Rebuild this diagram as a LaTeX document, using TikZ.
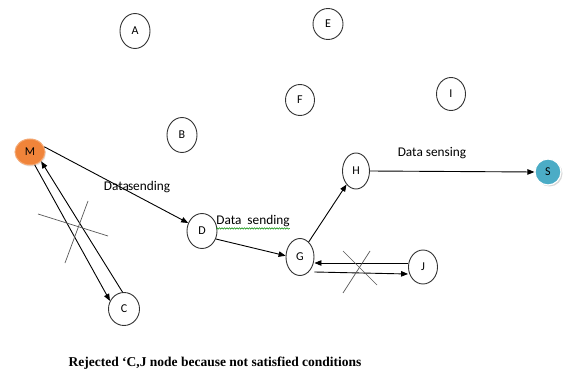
\documentclass[tikz,border=0pt]{standalone}
\usepackage{fontspec}
\setmainfont{Liberation Serif}
\newfontfamily\calfont{Carlito}
\usetikzlibrary{arrows.meta,shapes.geometric,shadows,decorations.pathmorphing}
\definecolor{mOrange}{HTML}{F0843A}
\definecolor{sTeal}{HTML}{4BACC6}
\definecolor{sEdge}{HTML}{357D91}
\begin{document}
\begin{tikzpicture}[x=1pt,y=-1pt,
  nd/.style={ellipse,draw=black!80,line width=0.9pt,minimum width=30pt,minimum height=35pt,inner sep=0pt,font=\calfont\fontsize{12}{13}\selectfont},
  arr/.style={line width=0.9pt,-{Triangle[length=7pt,width=5.5pt]}},
  xln/.style={line width=0.7pt,black!65},
  lbl/.style={font=\calfont\fontsize{13.3}{14}\selectfont,inner sep=0pt}]
\useasboundingbox (0,0) rectangle (568,377);
\fill[white] (0,0) rectangle (568,377);
% nodes
\node[nd] (A) at (135,31) {A};
\node[nd,minimum width=30pt,minimum height=31pt] (E) at (328,24) {E};
\node[nd,minimum width=29pt,minimum height=31pt] (F) at (300,100) {F};
\node[nd,minimum width=29pt,minimum height=33pt] (I) at (451,94) {I};
\node[nd] (B) at (182,135) {B};
\node[nd,minimum width=31pt,minimum height=33pt] (C) at (124,309) {C};
\node[nd] (D) at (202,231) {D};
\node[nd,minimum width=28pt,minimum height=37pt] (G) at (300,257) {G};
\node[nd,minimum width=27pt,minimum height=36pt] (H) at (356,171) {H};
\node[nd,minimum width=29pt,minimum height=34pt] (J) at (423,267) {J};
\node[nd,draw=mOrange!70!white,line width=1pt,fill=mOrange,minimum width=30pt,minimum height=26pt,
  drop shadow={opacity=0.2,shadow xshift=1pt,shadow yshift=-1.5pt}] (M) at (30,152) {M};
\node[nd,draw=white,line width=1.2pt,fill=sTeal,minimum width=26pt,minimum height=26pt,
  drop shadow={opacity=0.3,shadow xshift=1.5pt,shadow yshift=-1.5pt}] (S) at (548,172) {S};
% connectors
\draw[arr] (M.20) -- (D.150);
\draw[arr] (M.-70) -- (C.150);
\draw[arr] (C.95) -- (M.-40);
\draw[arr] (D.-30) -- (G.175);
\draw[arr] (G.60) -- (H.-125);
\draw[arr] (H.east) -- (S.west);
\draw[arr] (J.west |- 0,263) -- (G.east |- 0,263);
\draw[arr] ([yshift=-15pt]G.east) -- (J.west |- 0,274);
% crosses
\draw[xln] (38,214) -- (108,236);
\draw[xln] (65,263) -- (88,201);
\draw[xln] (343,251) -- (377,285);
\draw[xln] (370,251) -- (343,293);
% labels
\node[lbl] (l1) at (137,187) {Data\kern-1pt sending};
\node[lbl] (l2) at (253,221) {Data\ \ sending};
\draw[green!55!black,line width=0.5pt,decorate,decoration={snake,amplitude=0.7pt,segment length=2.5pt}] ([yshift=-1.5pt]l2.south west) -- ([yshift=-1.5pt]l2.south east);
\node[lbl] (l3) at (432,153) {Data sensing};
\node[font=\bfseries\fontsize{13.5}{15}\selectfont,inner sep=0pt] (cap) at (215,363) {Rejected ‘C,J node because not satisfied conditions};
\end{tikzpicture}
\end{document}
